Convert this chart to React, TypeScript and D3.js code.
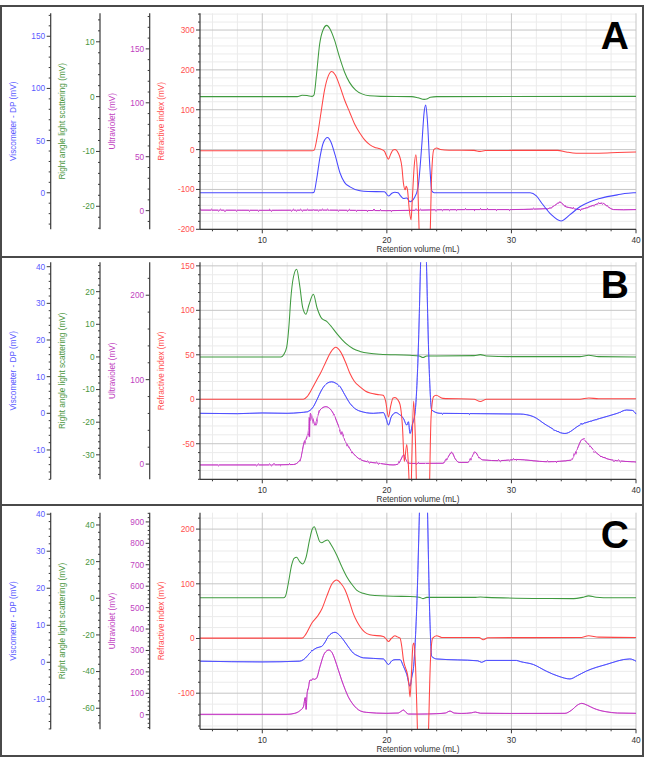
import React from 'react';
import * as d3 from 'd3';

type Pt = [number, number];

// ---------- texts ----------
const PANEL_LABELS = ['A', 'B', 'C'];
const X_TITLE = 'Retention volume (mL)';
const AXIS_TITLES = ['Viscometer - DP (mV)', 'Right angle light scattering (mV)', 'Ultraviolet (mV)', 'Refractive index (mV)'];
const X_DOMAIN: [number, number] = [5, 40];
const X_TICKS = [10, 20, 30, 40];
const X_MINOR = 2;

// ---------- axis domains & tick labels (per panel: visc, rals, uv, ri) ----------
const viscDomains: [number, number][] = [[-35, 172], [-18, 41.2], [-18.1, 40.4]];
const ralsDomains: [number, number][] = [[-24.2, 15.2], [-37.5, 29], [-71.5, 46.7]];
const uvDomains: [number, number][] = [[-17.3, 183], [-18, 239], [-68, 943]];
const riDomains: [number, number][] = [[-200, 342], [-90, 154], [-166, 230]];

const viscTicks = [[0, 50, 100, 150], [-10, 0, 10, 20, 30, 40], [-10, 0, 10, 20, 30, 40]];
const ralsTicks = [[-20, -10, 0, 10], [-30, -20, -10, 0, 10, 20], [-60, -40, -20, 0, 20, 40]];
const uvTicks = [[0, 50, 100, 150], [0, 100, 200], [0, 100, 200, 300, 400, 500, 600, 700, 800, 900]];
const riTicks = [[-200, -100, 0, 100, 200, 300], [-50, 0, 50, 100, 150], [-100, 0, 100, 200]];
const viscMinor = [10, 2, 2];
const ralsMinor = [2, 2, 4];
const uvMinor = [10, 20, 20];
const riMinor = [20, 10, 20];

// ---------- Panel A data ----------
const ralsA: Pt[] = [[5, 0], [12.8, 0], [13.2, 0.25], [13.6, 0.2], [14.0, 0.05], [14.15, 0.3], [14.35, 4], [14.6, 9.5], [14.9, 12.3], [15.17, 13.0], [15.45, 12.3], [15.8, 10.3], [16.2, 7.2], [16.6, 4.5], [17.0, 2.6], [17.5, 1.2], [18.0, 0.5], [18.6, 0.15], [19.5, 0.05], [22.0, 0], [22.5, -0.2], [23.0, -0.5], [23.2, -0.45], [23.5, -0.1], [24, 0], [40, 0.05]];
const riA: Pt[] = [[5, -3], [14.0, -3], [14.15, -2], [14.4, 30], [14.7, 90], [15.0, 150], [15.3, 185], [15.57, 196], [15.85, 188], [16.24, 158], [16.6, 125], [17.04, 92], [17.4, 65], [17.84, 41], [18.2, 25], [18.65, 12], [19.0, 6], [19.45, 2], [19.8, -4], [20.0, -18], [20.13, -24], [20.3, -12], [20.5, -1], [20.65, 0], [20.92, -9], [21.2, -42], [21.33, -84], [21.47, -101], [21.55, -92], [21.65, -100], [21.8, -150], [21.94, -176], [22.05, -120], [22.2, -40], [22.33, -13], [22.45, -60], [22.62, -230], [22.8, -300], [23.3, -300], [23.46, -230], [23.6, -60], [23.77, 0], [24.0, 4], [24.3, 0], [25, -1.5], [27.0, -2], [27.5, -4.5], [27.9, -2.5], [30, -2], [33.7, -2], [34.4, -6], [35.2, -9], [37, -9], [38.5, -7.5], [40, -6]];
const viscA: Pt[] = [[5, 0], [14.0, 0], [14.15, 0.5], [14.35, 12], [14.63, 34], [14.9, 48], [15.24, 53], [15.5, 49], [15.85, 36], [16.24, 19], [16.6, 10], [17.04, 5.7], [17.84, 1.9], [18.5, 1.2], [19.8, 1], [20.13, -3], [20.4, -0.5], [20.65, 0.5], [20.9, 0], [21.1, -3], [21.33, -5.4], [21.6, -5], [21.86, -8.6], [22.2, -5], [22.5, 5], [22.8, 45], [23.0, 78], [23.12, 84], [23.25, 70], [23.45, 25], [23.6, 2], [23.8, 0], [31.5, 0], [32, -3], [32.5, -11], [33.2, -21], [33.98, -27], [34.7, -21], [35.5, -13.4], [36.3, -8.5], [37.1, -5.4], [38.5, -2], [39.8, 0], [40, 0]];
const uvA: Pt[] = [[5, 0.5], [10, 0.3], [15, 0.5], [20, 0], [22, 0.3], [24, 0.8], [27, 1], [30, 1], [32, 1.5], [33, 2], [33.5, 5], [33.9, 8], [34.3, 4], [34.8, 2.5], [35.4, 1], [36, 2.5], [36.7, 5.5], [37.3, 7], [37.7, 4], [38.2, 1], [39, 0.8], [40, 1]];

// ---------- Panel B data ----------
const ralsB: Pt[] = [[5, 0], [11.5, 0], [11.7, 0.6], [11.96, 3], [12.15, 10], [12.28, 17.4], [12.5, 24.5], [12.76, 26.9], [13.0, 22], [13.25, 15], [13.5, 13.1], [13.75, 16], [14.1, 19.2], [14.4, 15], [14.77, 11.8], [15.17, 10.9], [15.5, 9.5], [15.97, 7.2], [16.4, 5.3], [16.78, 3.9], [17.3, 2.5], [17.84, 1.7], [18.6, 1.1], [19.45, 0.8], [21.86, 0.5], [22.6, 0.3], [22.9, -0.2], [23.2, 0.3], [24, 0.3], [27, 0.4], [27.5, 0.7], [28, 0.3], [30, 0.1], [35.5, 0.1], [36.2, 0.5], [37, 0.1], [40, 0]];
const riB: Pt[] = [[5, 0], [13.3, 0], [13.6, 3], [14.0, 12], [14.37, 21.7], [14.7, 30], [15.1, 42], [15.5, 53], [15.9, 58.4], [16.3, 53], [16.7, 41], [17.04, 29], [17.4, 20], [17.84, 14], [18.3, 9], [18.65, 7], [19.2, 5.5], [19.7, 4.5], [19.9, -2], [20.13, -20], [20.3, -8], [20.5, 1.5], [20.65, 2], [20.85, 0], [21.06, -6], [21.25, -30], [21.4, -70], [21.6, -51], [21.75, -80], [21.9, -130], [22.0, -70], [22.15, -2], [22.3, -50], [22.45, -130], [23.35, -130], [23.55, -20], [23.75, 3], [23.95, 4.5], [24.5, 1], [27.0, 0], [27.5, -2.5], [28, 0], [35.5, 0], [36.2, 1.5], [37, 0.5], [40, 0.5]];
const viscB: Pt[] = [[5, 0], [8, -0.1], [10, 0.1], [12, 0], [13.03, 0.2], [13.57, 0.4], [14.1, 1.8], [14.4, 3.8], [14.77, 6.4], [15.2, 8.2], [15.57, 8.6], [15.9, 8.2], [16.24, 7.3], [16.6, 5.2], [17.04, 2.7], [17.4, 1.4], [17.84, 0.6], [18.91, 0], [19.72, 0.2], [19.95, -1.5], [20.13, -3.2], [20.35, -1], [20.73, 0.2], [21.0, -0.3], [21.33, -1.4], [21.6, -3.2], [21.73, -2.3], [21.86, -5.5], [22.05, -3], [22.26, 0], [22.5, 15], [22.74, 45], [22.95, 70], [23.15, 45], [23.4, 12], [23.6, 0.9], [24.27, 0], [30.7, -0.2], [31.76, -0.9], [32.8, -3.2], [34.3, -5.5], [35.5, -3.2], [37.1, -1.4], [38.5, 0], [39.25, 0.9], [39.7, 0.8], [40, -0.2]];
const uvB: Pt[] = [[5, -1], [10, -1], [12.5, -0.5], [13.03, 4.7], [13.35, 24.6], [13.7, 40], [13.76, 55], [13.8, 32], [13.86, 60], [13.96, 58], [14.1, 52], [14.23, 46], [14.4, 54], [14.63, 64], [15.1, 68], [15.4, 66], [15.7, 60], [16.1, 46], [16.5, 32], [16.9, 21], [17.3, 12.7], [17.7, 7], [18.1, 4], [19.45, 0.8], [20.5, -1], [20.9, 0], [21.15, 6], [21.33, 10.7], [21.5, 6], [21.73, 1.5], [22, 0.8], [24.5, 1], [24.9, 8], [25.2, 13.9], [25.5, 6], [25.8, 2], [26.5, 2], [26.8, 8], [27.1, 13.9], [27.4, 8], [27.7, 5], [29.1, 4], [30.4, 5.5], [32.9, 2.8], [34.8, 4.7], [35.24, 16.6], [35.7, 29.3], [36.1, 25], [36.6, 16.6], [37.1, 10], [37.6, 6.7], [38.5, 4], [39.8, 2.7], [40, 2.5]];

// ---------- Panel C data ----------
const ralsC: Pt[] = [[5, 0.3], [11.7, 0.3], [11.85, 1], [12.09, 8.2], [12.36, 18.2], [12.55, 21.8], [12.76, 22.4], [13.0, 20], [13.24, 18.7], [13.5, 22], [13.8, 32], [14.0, 37.5], [14.17, 39], [14.4, 35], [14.6, 31], [14.77, 30.3], [15.0, 31.2], [15.24, 31.8], [15.5, 29.5], [15.97, 23.6], [16.4, 17], [16.78, 11.8], [17.2, 7.5], [17.57, 4.5], [18.1, 2.7], [18.65, 1.8], [20.5, 1.1], [21.86, 1], [22.6, 0.6], [22.9, -0.2], [23.2, 0.5], [27.0, 0.5], [27.5, 0.7], [28, 0.5], [33, -0.1], [35, -0.2], [35.7, 0.5], [36.2, 1.3], [36.8, 0.6], [38, 0.3], [40, 0.3]];
const riC: Pt[] = [[5, 0.7], [13.2, 0.7], [13.5, 8], [13.97, 28], [14.5, 43], [14.8, 55], [15.17, 77], [15.6, 100], [15.97, 107], [16.3, 101], [16.64, 89], [17.0, 67], [17.3, 46], [17.6, 31], [17.84, 22], [18.2, 12], [18.65, 6.8], [19.72, 3.7], [19.95, -1], [20.13, -5.5], [20.35, 0], [20.65, 5], [20.85, 3], [21.06, 0.7], [21.2, -15], [21.33, -39], [21.47, -52], [21.55, -57], [21.66, -66], [21.75, -80], [21.86, -107], [21.98, -60], [22.1, -11.5], [22.18, -8.4], [22.3, -50], [22.5, -200], [22.6, -260], [23.2, -260], [23.33, -180], [23.5, -40], [23.68, 0.7], [24.0, 5], [24.4, 2], [27.4, 1.8], [27.74, -2.4], [28.1, 1.5], [35.5, 1.8], [36.2, 5], [37, 2.5], [40, 1.8]];
const viscC: Pt[] = [[5, 0.3], [10, 0.1], [13.0, 0.3], [13.3, 0.7], [13.97, 3], [14.37, 3.9], [14.77, 4.3], [15.05, 5.5], [15.3, 7], [15.84, 8.1], [16.2, 7.3], [16.5, 6.1], [16.9, 4.2], [17.3, 2.5], [17.7, 1.7], [18.1, 1.2], [19.72, 0.9], [20.13, -0.6], [20.4, 0.4], [20.65, 0.7], [21.06, 0.7], [21.33, -1.1], [21.6, -3.3], [21.86, -6.5], [22.0, -4], [22.15, -1.1], [22.4, 15], [22.7, 50], [22.95, 70], [23.2, 50], [23.45, 12], [23.6, 1.6], [24, 0.9], [27.3, 0.4], [27.6, 0.0], [28, 0.5], [30.4, 0.5], [30.7, 0.2], [31.76, -0.6], [32.8, -2.4], [33.8, -3.8], [34.7, -4.5], [35.3, -3.6], [36.0, -2.4], [37.6, -0.6], [39.5, 0.9], [40, 0.3]];
const uvC: Pt[] = [[5, 1.9], [12, 1.9], [12.6, 6.5], [13.0, 18], [13.3, 37], [13.45, 80], [13.52, 25], [13.6, 100], [13.7, 125], [13.83, 162], [13.95, 160], [14.04, 168], [14.2, 165], [14.37, 172], [14.63, 224], [15.0, 287], [15.34, 302], [15.6, 290], [15.84, 256], [16.1, 210], [16.37, 162], [16.65, 118], [16.9, 84], [17.2, 55], [17.57, 30], [17.9, 17], [18.38, 11], [19.98, 6.5], [20.9, 8], [21.15, 16], [21.33, 22], [21.55, 10], [21.73, 3.3], [22.5, 3], [24, 5], [24.7, 8], [25.07, 17], [25.4, 8], [26, 6], [26.8, 9], [27.1, 12.6], [27.5, 7], [30, 6], [34.3, 6.5], [34.84, 22], [35.3, 45], [35.64, 53], [36.1, 44], [36.6, 30], [37.1, 20], [37.6, 14], [38.5, 8], [40, 6.5]];

const viscSeries = [viscA, viscB, viscC];
const ralsSeries = [ralsA, ralsB, ralsC];
const uvSeries = [uvA, uvB, uvC];
const riSeries = [riA, riB, riC];

// ---------- layout & style ----------
const W = 651;
const H = 757;
const PLOT_LEFT = 200;
const PLOT_RIGHT = 636;
const LAYOUT = [
  { top: 6, plotTop: 13.3, plotBottom: 229.3 },
  { top: 257, plotTop: 262.3, plotBottom: 479.3 },
  { top: 505, plotTop: 512.7, plotBottom: 729.3 },
];
const AXIS_X = [50.7, 100, 149.7, 200];
const TITLE_X = [12.7, 61.7, 111.7, 161];
const LINE_COLORS = ['#4848ff', '#3f9a3f', '#c22fc2', '#ff4545'];
const LABEL_COLORS = ['#5a5aff', '#4a9640', '#bf3fbf', '#ff5050'];
const FONT = "'Liberation Sans', Arial, sans-serif";
const AXIS_COLOR = '#3a3a3a';
// jitter strength of the noisy detector traces (uv, visc) per panel
const UV_NOISE = [3.5, 3.5, 1.6];
const VISC_NOISE = [0, 2.2, 1.8];

function minorTicks(domain: [number, number], step: number, majors: number[]) {
  const start = Math.ceil(domain[0] / step) * step;
  return d3.range(start, domain[1] + 1e-9, step).filter((v) => !majors.some((m) => Math.abs(m - v) < 1e-6));
}

function YAxis({ x, scale, ticks, minor, color, title, titleX, yMid }: any) {
  const dom = scale.domain() as [number, number];
  const mins = minorTicks(dom, minor, ticks);
  const [r0, r1] = scale.range();
  return (
    <g>
      <line x1={x} x2={x} y1={r1} y2={r0} stroke={AXIS_COLOR} strokeWidth={1.2} />
      {mins.map((v: number, i: number) => (
        <line key={'m' + i} x1={x - 2} x2={x} y1={scale(v)} y2={scale(v)} stroke={AXIS_COLOR} strokeWidth={1} />
      ))}
      {ticks.map((v: number) => (
        <g key={v}>
          <line x1={x - 4} x2={x} y1={scale(v)} y2={scale(v)} stroke={AXIS_COLOR} strokeWidth={1} />
          <text x={x - 5.5} y={scale(v)} dy="0.35em" textAnchor="end" fontSize={8.3} fontFamily={FONT} fill={color}>
            {v}
          </text>
        </g>
      ))}
      <text
        x={titleX}
        y={yMid}
        dy="0.35em"
        textAnchor="middle"
        fontSize={8.2}
        fontFamily={FONT}
        fill={color}
        transform={`rotate(-90, ${titleX}, ${yMid})`}
      >
        {title}
      </text>
    </g>
  );
}

function NoiseFilter({ id, scale, seed }: { id: string; scale: number; seed: number }) {
  return (
    <filter id={id} filterUnits="userSpaceOnUse" x={0} y={0} width={W} height={H}>
      <feTurbulence type="fractalNoise" baseFrequency="0.45 0.015" numOctaves={1} seed={seed} result="n" />
      <feDisplacementMap in="SourceGraphic" in2="n" scale={scale} xChannelSelector="R" yChannelSelector="G" />
    </filter>
  );
}

function Panel({ idx }: { idx: number }) {
  const L = LAYOUT[idx];
  const x = d3.scaleLinear().domain(X_DOMAIN).range([PLOT_LEFT, PLOT_RIGHT]);
  const yVisc = d3.scaleLinear().domain(viscDomains[idx]).range([L.plotBottom, L.plotTop]);
  const yRals = d3.scaleLinear().domain(ralsDomains[idx]).range([L.plotBottom, L.plotTop]);
  const yUv = d3.scaleLinear().domain(uvDomains[idx]).range([L.plotBottom, L.plotTop]);
  const yRi = d3.scaleLinear().domain(riDomains[idx]).range([L.plotBottom, L.plotTop]);
  const scales = [yVisc, yRals, yUv, yRi];
  const tickSets = [viscTicks[idx], ralsTicks[idx], uvTicks[idx], riTicks[idx]];
  const minorSets = [viscMinor[idx], ralsMinor[idx], uvMinor[idx], riMinor[idx]];
  const yMid = (L.plotTop + L.plotBottom) / 2;

  const mk = (ys: d3.ScaleLinear<number, number>) =>
    d3
      .line<Pt>()
      .x((d) => x(d[0]))
      .y((d) => ys(d[1]))
      .curve(d3.curveMonotoneX);

  const xMinor = minorTicks(X_DOMAIN, X_MINOR, X_TICKS);
  const riMin = minorTicks(riDomains[idx], riMinor[idx], riTicks[idx]);
  const clipId = `clip${idx}`;
  const uvF = `uvNoise${idx}`;
  const viF = `viNoise${idx}`;

  const series = [
    { data: uvSeries[idx], scale: yUv, color: LINE_COLORS[2], noise: UV_NOISE[idx], f: uvF },
    { data: ralsSeries[idx], scale: yRals, color: LINE_COLORS[1], noise: 0, f: '' },
    { data: viscSeries[idx], scale: yVisc, color: LINE_COLORS[0], noise: VISC_NOISE[idx], f: viF },
    { data: riSeries[idx], scale: yRi, color: LINE_COLORS[3], noise: 0, f: '' },
  ];

  return (
    <g>
      <defs>
        <clipPath id={clipId}>
          <rect x={PLOT_LEFT} y={L.plotTop} width={PLOT_RIGHT - PLOT_LEFT + 1} height={L.plotBottom - L.plotTop} />
        </clipPath>
        <NoiseFilter id={uvF} scale={UV_NOISE[idx]} seed={4 + idx} />
        <NoiseFilter id={viF} scale={VISC_NOISE[idx]} seed={11 + idx} />
      </defs>
      {/* grid */}
      {xMinor.map((v, i) => (
        <line key={'gx' + i} x1={x(v)} x2={x(v)} y1={L.plotTop} y2={L.plotBottom} stroke="#ebebeb" strokeWidth={1} />
      ))}
      {riMin.map((v, i) => (
        <line key={'gy' + i} x1={PLOT_LEFT} x2={PLOT_RIGHT} y1={yRi(v)} y2={yRi(v)} stroke="#ebebeb" strokeWidth={1} />
      ))}
      {X_TICKS.map((v) => (
        <line key={'GX' + v} x1={x(v)} x2={x(v)} y1={L.plotTop} y2={L.plotBottom} stroke="#c6c6c6" strokeWidth={1} />
      ))}
      {riTicks[idx].map((v) => (
        <line key={'GY' + v} x1={PLOT_LEFT} x2={PLOT_RIGHT} y1={yRi(v)} y2={yRi(v)} stroke="#c6c6c6" strokeWidth={1} />
      ))}
      {/* traces */}
      <g clipPath={`url(#${clipId})`}>
        {series.map((s, i) => {
          const d = mk(s.scale)(s.data) || '';
          return s.noise > 0 ? (
            <g key={i}>
              <path d={d} fill="none" stroke={s.color} strokeWidth={0.8} strokeOpacity={0.75} />
              <path d={d} fill="none" stroke={s.color} strokeWidth={0.9} filter={`url(#${s.f})`} />
            </g>
          ) : (
            <path key={i} d={d} fill="none" stroke={s.color} strokeWidth={1.05} />
          );
        })}
      </g>
      {/* y axes */}
      {scales.map((sc, i) => (
        <YAxis
          key={i}
          x={AXIS_X[i]}
          scale={sc}
          ticks={tickSets[i]}
          minor={minorSets[i]}
          color={LABEL_COLORS[i]}
          title={AXIS_TITLES[i]}
          titleX={TITLE_X[i]}
          yMid={yMid}
        />
      ))}
      {/* x axis */}
      <line x1={PLOT_LEFT} x2={PLOT_RIGHT} y1={L.plotBottom} y2={L.plotBottom} stroke={AXIS_COLOR} strokeWidth={1.2} />
      {xMinor.map((v, i) => (
        <line key={'tx' + i} x1={x(v)} x2={x(v)} y1={L.plotBottom} y2={L.plotBottom + 2} stroke={AXIS_COLOR} strokeWidth={1} />
      ))}
      {X_TICKS.map((v) => (
        <g key={'TX' + v}>
          <line x1={x(v)} x2={x(v)} y1={L.plotBottom} y2={L.plotBottom + 4} stroke={AXIS_COLOR} strokeWidth={1} />
          <text x={x(v)} y={L.plotBottom + 14} textAnchor="middle" fontSize={8.3} fontFamily={FONT} fill="#333">
            {v}
          </text>
        </g>
      ))}
      <text x={(PLOT_LEFT + PLOT_RIGHT) / 2} y={L.plotBottom + 23} textAnchor="middle" fontSize={8.2} fontFamily={FONT} fill="#333">
        {X_TITLE}
      </text>
      <text x={629} y={L.plotTop + 35.5} textAnchor="end" fontSize={39} fontWeight="bold" fontFamily={FONT} fill="#000">
        {PANEL_LABELS[idx]}
      </text>
    </g>
  );
}

export default function App() {
  return (
    <svg width={W} height={H} style={{ position: 'absolute', left: 0, top: 0, background: '#fff' }}>
      <rect x={0} y={0} width={W} height={H} fill="#fff" />
      {[0, 1, 2].map((i) => (
        <Panel key={i} idx={i} />
      ))}
      {/* frames */}
      <rect x={1} y={6} width={642} height={750} fill="none" stroke="#4a4a4a" strokeWidth={2} />
      <line x1={0} x2={644} y1={257} y2={257} stroke="#4a4a4a" strokeWidth={2} />
      <line x1={0} x2={644} y1={505} y2={505} stroke="#4a4a4a" strokeWidth={2} />
    </svg>
  );
}
